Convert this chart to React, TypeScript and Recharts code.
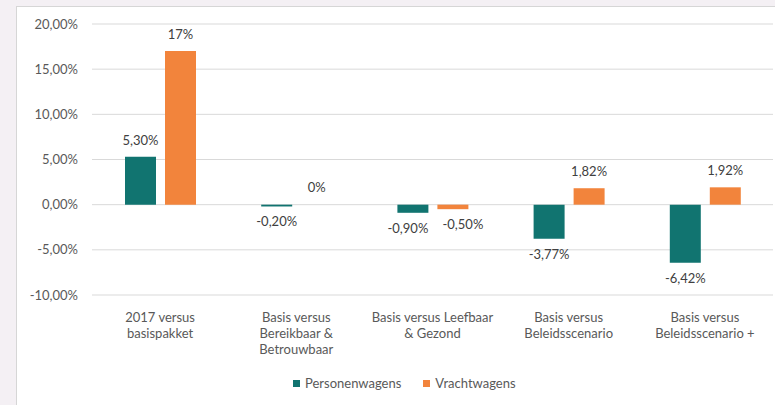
import { BarChart, Bar, XAxis, YAxis, CartesianGrid, LabelList, Rectangle } from "recharts";

const categories = [
  "2017 versus\nbasispakket",
  "Basis versus\nBereikbaar &\nBetrouwbaar",
  "Basis versus Leefbaar\n& Gezond",
  "Basis versus\nBeleidsscenario",
  "Basis versus\nBeleidsscenario +",
];
const personenwagens = [5.3, -0.2, -0.9, -3.77, -6.42];
const vrachtwagens = [17, 0, -0.5, 1.82, 1.92];
const personenLabels = ["5,30%", "-0,20%", "-0,90%", "-3,77%", "-6,42%"];
const vrachtLabels = ["17%", "0%", "-0,50%", "1,82%", "1,92%"];
const yTicks = [-10, -5, 0, 5, 10, 15, 20];

const TEAL = "#117470";
const ORANGE = "#f2843c";
const FONT = "Lato, 'Open Sans', sans-serif";

const data = categories.map((c, i) => ({
  name: c,
  Personenwagens: personenwagens[i],
  Vrachtwagens: vrachtwagens[i],
}));

// value labels above positive bars, below negative ones;
// when both bars of a group are negative, nudge the labels apart like Excel does
function makeLabel(values: number[], labels: string[], other: number[], side: number) {
  return (props: any) => {
    const { x = 0, y = 0, width = 0, height = 0, value = 0 } = props;
    const v = Array.isArray(value) ? value[1] : Number(value);
    const idx = values.indexOf(v);
    const top = Math.min(y, y + height);
    const bottom = Math.max(y, y + height);
    const ty = v >= 0 ? top - 12 : bottom + 20;
    const crowded = idx >= 0 && v < 0 && other[idx] < 0;
    const dx = crowded ? side * 5 : 0;
    return (
      <text x={x + width / 2 + dx} y={ty} textAnchor="middle" fill="#404040" fontSize={13} fontFamily={FONT}>
        {idx >= 0 ? labels[idx] : ""}
      </text>
    );
  };
}

// zero-valued bars keep their label but draw no rectangle
function HideZeroBar(key: string) {
  return (props: any) => (props.payload && props.payload[key] === 0 ? <g /> : <Rectangle {...props} />);
}

function CategoryTick(props: any) {
  const { x, y, payload } = props;
  const lines = String(payload.value).split("\n");
  return (
    <g>
      {lines.map((l: string, i: number) => (
        <text key={i} x={x} y={y + 19 + i * 16} textAnchor="middle" fill="#595959" fontSize={13} fontFamily={FONT}>
          {l}
        </text>
      ))}
    </g>
  );
}

const fmt = (v: number) => v.toFixed(2).replace(".", ",") + "%";

export default function App() {
  const legend = [
    { name: "Personenwagens", color: TEAL },
    { name: "Vrachtwagens", color: ORANGE },
  ];
  return (
    <div style={{ position: "fixed", left: 0, top: 0, width: 775, height: 405, background: "#f4f0f4", overflow: "hidden" }}>
      <div
        style={{
          position: "absolute",
          left: 16,
          top: 6,
          right: 0,
          bottom: 0,
          background: "#fff",
          borderLeft: "1px solid #d6d6d6",
          borderTop: "1px solid #d6d6d6",
        }}
      />
      <div style={{ position: "absolute", left: 0, top: 0 }}>
        <BarChart width={775} height={405} data={data} margin={{ top: 24, right: 2, bottom: 30, left: 0 }} barSize={31} barGap={9}>
          <CartesianGrid vertical={false} stroke="#d9d9d9" />
          <XAxis dataKey="name" axisLine={false} tickLine={false} height={80} interval={0} tick={<CategoryTick />} />
          <YAxis
            width={92}
            domain={[-10, 20]}
            ticks={yTicks}
            axisLine={false}
            tickLine={false}
            tickMargin={8}
            tickFormatter={fmt}
            tick={{ fill: "#595959", fontSize: 13, fontFamily: FONT }}
          />
          <Bar dataKey="Personenwagens" fill={TEAL} isAnimationActive={false}>
            <LabelList dataKey="Personenwagens" content={makeLabel(personenwagens, personenLabels, vrachtwagens, -1)} />
          </Bar>
          <Bar
            dataKey="Vrachtwagens"
            fill={ORANGE}
            minPointSize={1}
            shape={HideZeroBar("Vrachtwagens")}
            isAnimationActive={false}
          >
            <LabelList dataKey="Vrachtwagens" content={makeLabel(vrachtwagens, vrachtLabels, personenwagens, 2)} />
          </Bar>
        </BarChart>
      </div>
      <div
        style={{
          position: "absolute",
          left: 293,
          top: 375,
          display: "flex",
          gap: 22,
          fontFamily: FONT,
          fontSize: 13,
          lineHeight: "16px",
          color: "#595959",
        }}
      >
        {legend.map((l) => (
          <span key={l.name} style={{ display: "flex", alignItems: "center" }}>
            <span style={{ display: "inline-block", width: 7, height: 7, background: l.color, marginRight: 5 }} />
            {l.name}
          </span>
        ))}
      </div>
    </div>
  );
}
